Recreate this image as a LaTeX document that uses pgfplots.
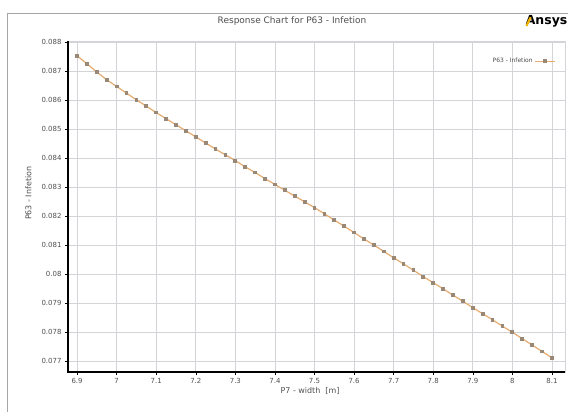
\documentclass[border=0pt]{standalone}
\usepackage{pgfplots}
\pgfplotsset{compat=1.18}
\usepackage{fontspec}
\setmainfont{DejaVu Sans}
\definecolor{txtgray}{HTML}{505050}
\definecolor{gridgray}{HTML}{D4D4D8}
\definecolor{lineor}{HTML}{E6AC70}
\definecolor{markc}{HTML}{9A8877}
\definecolor{ansysy}{HTML}{F2B600}
\begin{document}
\begin{tikzpicture}
\useasboundingbox (0bp,0bp) rectangle (568bp,412bp);
\fill[white] (0bp,0bp) rectangle (568bp,412bp);
\draw[gray!70, line width=0.8bp] (7bp,0bp) -- (7bp,399bp) -- (568bp,399bp);
\node[font=\fontsize{9}{10}\selectfont, text=txtgray] at (292bp,391bp) {Response Chart for P63 - Infetion};
\node[anchor=east, font=\fontsize{12.5}{14}\selectfont\bfseries, inner sep=0pt] (logo) at (567.5bp,391bp) {Ansys};
\begin{axis}[
  at={(68bp,40bp)}, anchor=south west,
  scale only axis, width=497bp, height=331bp,
  xmin=6.877, xmax=8.133, ymin=0.07663, ymax=0.08805,
  xtick={6.9,7,7.1,7.2,7.3,7.4,7.5,7.6,7.7,7.8,7.9,8,8.1},
  ytick={0.077,0.078,0.079,0.08,0.081,0.082,0.083,0.084,0.085,0.086,0.087,0.088},
  scaled y ticks=false,
  yticklabel style={/pgf/number format/fixed, /pgf/number format/precision=3},
  /pgf/number format/assume math mode=true,
  tick label style={font=\fontsize{7}{8}\selectfont, text=txtgray},
  label style={font=\fontsize{8}{9}\selectfont, text=txtgray},
  xlabel={P7 - width\ \ [m]}, ylabel={P63 - Infetion},
  xlabel style={at={(axis description cs:0.487,0)}, anchor=north, yshift=-12bp},
  ylabel style={at={(axis description cs:0,0.54)}, anchor=south, yshift=33bp},
  grid=major, major grid style={gridgray, line width=0.7bp},
  axis line style={gridgray, line width=0.7bp},
  tick style={black, line width=0.6bp},
  xtick pos=bottom, ytick pos=left, tick align=outside,
  major tick length=3bp,
  legend style={draw=none, fill=none, font=\fontsize{6}{7}\selectfont, text=txtgray,
    at={(axis cs:8.118,0.0876)}, anchor=north east},
  legend plot pos=right,
  legend cell align=right,
  legend image code/.code={
    \draw[lineor, line width=1.2bp] (0bp,0bp) -- (20bp,0bp);
    \fill[markc] (8.7bp,-1.3bp) rectangle (11.3bp,1.3bp);
  },
  clip=false,
]
\addplot[lineor, line width=1.2bp, mark=square*, mark size=1.3bp,
  mark options={fill=markc, draw=markc}] coordinates {
(6.9,0.08754) (6.925,0.08726) (6.95,0.08698) (6.975,0.08671) (7.0,0.08648)
(7.025,0.08625) (7.05,0.08602) (7.075,0.08580) (7.1,0.08558) (7.125,0.08537)
(7.15,0.08516) (7.175,0.08495) (7.2,0.08474) (7.225,0.08453) (7.25,0.08432)
(7.275,0.08412) (7.3,0.08392) (7.325,0.08371) (7.35,0.08351) (7.375,0.08330)
(7.4,0.08310) (7.425,0.08290) (7.45,0.08270) (7.475,0.08250) (7.5,0.08230)
(7.525,0.08209) (7.55,0.08187) (7.575,0.08166) (7.6,0.08144) (7.625,0.08122)
(7.65,0.08101) (7.675,0.08079) (7.7,0.08057) (7.725,0.08036) (7.75,0.08014)
(7.775,0.07992) (7.8,0.07971) (7.825,0.07950) (7.85,0.07928) (7.875,0.07907)
(7.9,0.07885) (7.925,0.07864) (7.95,0.07843) (7.975,0.07821) (8.0,0.07800)
(8.025,0.07778) (8.05,0.07756) (8.075,0.07734) (8.1,0.07712)
};
\addlegendentry{P63 - Infetion}
\end{axis}
\draw[black, line width=2bp] (68bp,371bp) -- (68bp,40bp) -- (565bp,40bp);
\draw[ansysy, line width=2.2bp] (logo.south west) ++(0.8bp,1.2bp) -- ++(4.2bp,8.6bp);
\end{tikzpicture}
\end{document}
